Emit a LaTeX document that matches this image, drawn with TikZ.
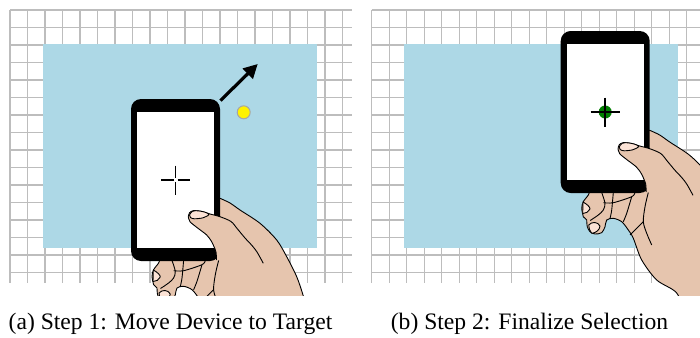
\documentclass[tikz,border=0pt]{standalone}
\usepackage{fontspec}
\setmainfont{Liberation Serif}
\usetikzlibrary{arrows.meta}

\definecolor{wallblue}{HTML}{ADD8E6}
\definecolor{skin}{HTML}{E6C5AE}
\definecolor{nail}{HTML}{FCE3D6}
\definecolor{gridgray}{HTML}{BDBDBD}

\tikzset{
  gridline/.style={draw=gridgray,line width=0.6pt},
  phone/.style={rectangle,fill=black,rounded corners=5pt,minimum width=44.5pt,minimum height=81pt,inner sep=0pt},
  screen/.style={rectangle,fill=white,minimum width=38.5pt,minimum height=68pt,inner sep=0pt},
  target/.style={circle,minimum size=6.5pt,inner sep=0pt},
  crosshair/.style={line width=0.9pt},
  skinline/.style={line width=0.45pt,line join=round},
  movearrow/.style={line width=1.6pt,-{Triangle[length=7pt,width=7pt]}},
  subcap/.style={font=\fontsize{11.8}{14}\selectfont}
}

% palm and fingers, goes behind the phone (local coords, phone corner at 0,0)
\newcommand{\handback}{%
  \filldraw[fill=skin,draw=black,skinline]
    plot[smooth] coordinates {(89,99.3) (99,104) (109,111) (129,124.3) (145.7,141)
      (155.7,157.7) (165.7,177.7) (172.3,197) (180,225) (188,260) (195,290)}
    -- (200,340) -- (130,340) --
    plot[smooth] coordinates {(125,285) (116,262) (96,249) (81,229) (72.6,207.3)
      (67.6,199) (61,190.7) (52.6,187.3) (46,189) (44.3,195.7) (41,201.7)
      (34.3,203) (29.3,200.7) (26.6,195.7) (26,189)}
    --
    plot[smooth] coordinates {(22.6,185.7) (21,177.3) (22.6,170.7) (27.6,164) (30,158)}
    -- (80,150) -- (86,99) -- cycle;
  % finger nails
  \filldraw[fill=nail,skinline] (22.3,171) .. controls (26,173) and (29.5,176) .. (29.3,178)
    .. controls (28,181) and (25,182.5) .. (22,182.5) -- cycle;
  \filldraw[fill=nail,skinline] (28,194) .. controls (31,190.5) and (37,190.5) .. (39.3,195)
    .. controls (39,199) and (35,202) .. (31,202.3) .. controls (29,200) and (28,197) .. (28,194) -- cycle;
}

% thumb over the screen, plus the creases
\newcommand{\handfront}{%
  \fill[skin]
    plot[smooth] coordinates {(57.3,117.7) (58.5,113.8) (62.3,111.7) (70,112.3) (79,115) (89,117.7) (97,119.5)}
    -- (100,140) -- (97,166) -- (86,166) --
    plot[smooth] coordinates {(85.5,161) (85,153) (83,147.7) (80.7,142.7) (75.7,136) (65.7,128.3) (59,122.7) (57.3,117.7)}
    -- cycle;
  \draw[skinline] plot[smooth] coordinates {(57.3,117.7) (58.5,113.8) (62.3,111.7) (70,112.3) (79,115)
    (89,117.7) (100,122.5) (106.5,130) (114,139) (121,146.5) (126,153) (132.3,164.3)};
  \draw[skinline] plot[smooth] coordinates {(57.3,117.7) (59,122.7) (65.7,128.3) (75.7,136)
    (80.7,142.7) (83,147.7) (85,153) (85.5,161)};
  \filldraw[fill=nail,skinline] plot[smooth cycle] coordinates {(58.5,116) (61.5,112.3) (67,111.8)
    (74,113.2) (78,115.6) (72,118.8) (63.5,119.8) (59.5,118.6)};
  % knuckles under the phone
  \draw[skinline] plot[smooth] coordinates {(41,161.5) (44.3,172.3) (42.6,179) (37.6,184) (29.5,189.5)};
  \draw[skinline] plot[smooth] coordinates {(52.6,161.5) (51,179) (49.3,187.5)};
  \draw[skinline] plot[smooth] coordinates {(42.6,171.7) (52.6,171.7) (71,165.7) (74.3,161.5)};
  \draw[skinline] plot[smooth] coordinates {(71,165.7) (66,182.3) (62.6,190.7)};
  \draw[skinline] (82.6,190.7) -- (69.3,204);
  \draw[skinline] plot[smooth] coordinates {(87.6,161.5) (84.3,175.7) (82.6,190.7) (86,202.3) (91,214)};
}

\begin{document}
\begin{tikzpicture}[x=0.5pt,y=-0.5pt]
  \useasboundingbox (0,0) rectangle (700,337);

  % ---- step 1 ----
  \foreach \gx in {0,17.5,...,332.5}
    \draw[gridline] (10+\gx,10) -- (10+\gx,283);
  \foreach \gy in {0,17.5,...,262.5}
    \draw[gridline] (10,10+\gy) -- (352,10+\gy);
  \fill[wallblue] (43.3,44) rectangle (316.7,248);

  \begin{scope}
    \clip (0,0) rectangle (352,295);
    \begin{scope}[shift={(131,99)}]
      \node[target,fill=yellow,draw=black!35,line width=0.5pt] (tgtA) at (112.7,13.3) {};
      \handback
      \node[phone] (phoneA) at (44.5,81) {};
      \node[screen] (screenA) at (phoneA.center) {};
      \draw[crosshair] ([xshift=-7.25pt]screenA.center) -- ([xshift=-1pt]screenA.center);
      \draw[crosshair] ([xshift=1pt]screenA.center) -- ([xshift=7.25pt]screenA.center);
      \draw[crosshair] ([yshift=7.25pt]screenA.center) -- ([yshift=1pt]screenA.center);
      \draw[crosshair] ([yshift=-1pt]screenA.center) -- ([yshift=-7.25pt]screenA.center);
      \handfront
      \coordinate (goalA) at (126.7,-35);
      \draw[movearrow] ([yshift=-1pt]phoneA.north east) -- (goalA);
    \end{scope}
  \end{scope}

  \node[subcap] (capA) at (170.5,324) {(a) Step 1: Move Device to Target};

  % ---- step 2 ----
  \foreach \gx in {0,17.5,...,315}
    \draw[gridline] (371.7+\gx,10) -- (371.7+\gx,283);
  \foreach \gy in {0,17.5,...,262.5}
    \draw[gridline] (371.7,10+\gy) -- (700,10+\gy);
  \fill[wallblue] (404,44) rectangle (677.7,248);

  \begin{scope}
    \clip (361,0) rectangle (700,295);
    \begin{scope}[shift={(560.7,31)}]
      \handback
      \node[phone] (phoneB) at (44.5,81) {};
      \node[screen] (screenB) at (phoneB.center) {};
      \node[target,fill=green!50!black] (tgtB) at (screenB.center) {};
      \draw[crosshair,line width=0.75pt] ([xshift=-7.25pt]screenB.center) -- ([xshift=7.25pt]screenB.center);
      \draw[crosshair,line width=0.75pt] ([yshift=7.25pt]screenB.center) -- ([yshift=-7.25pt]screenB.center);
      \handfront
    \end{scope}
  \end{scope}

  \node[subcap] (capB) at (529.5,324) {(b) Step 2: Finalize Selection};
\end{tikzpicture}
\end{document}
